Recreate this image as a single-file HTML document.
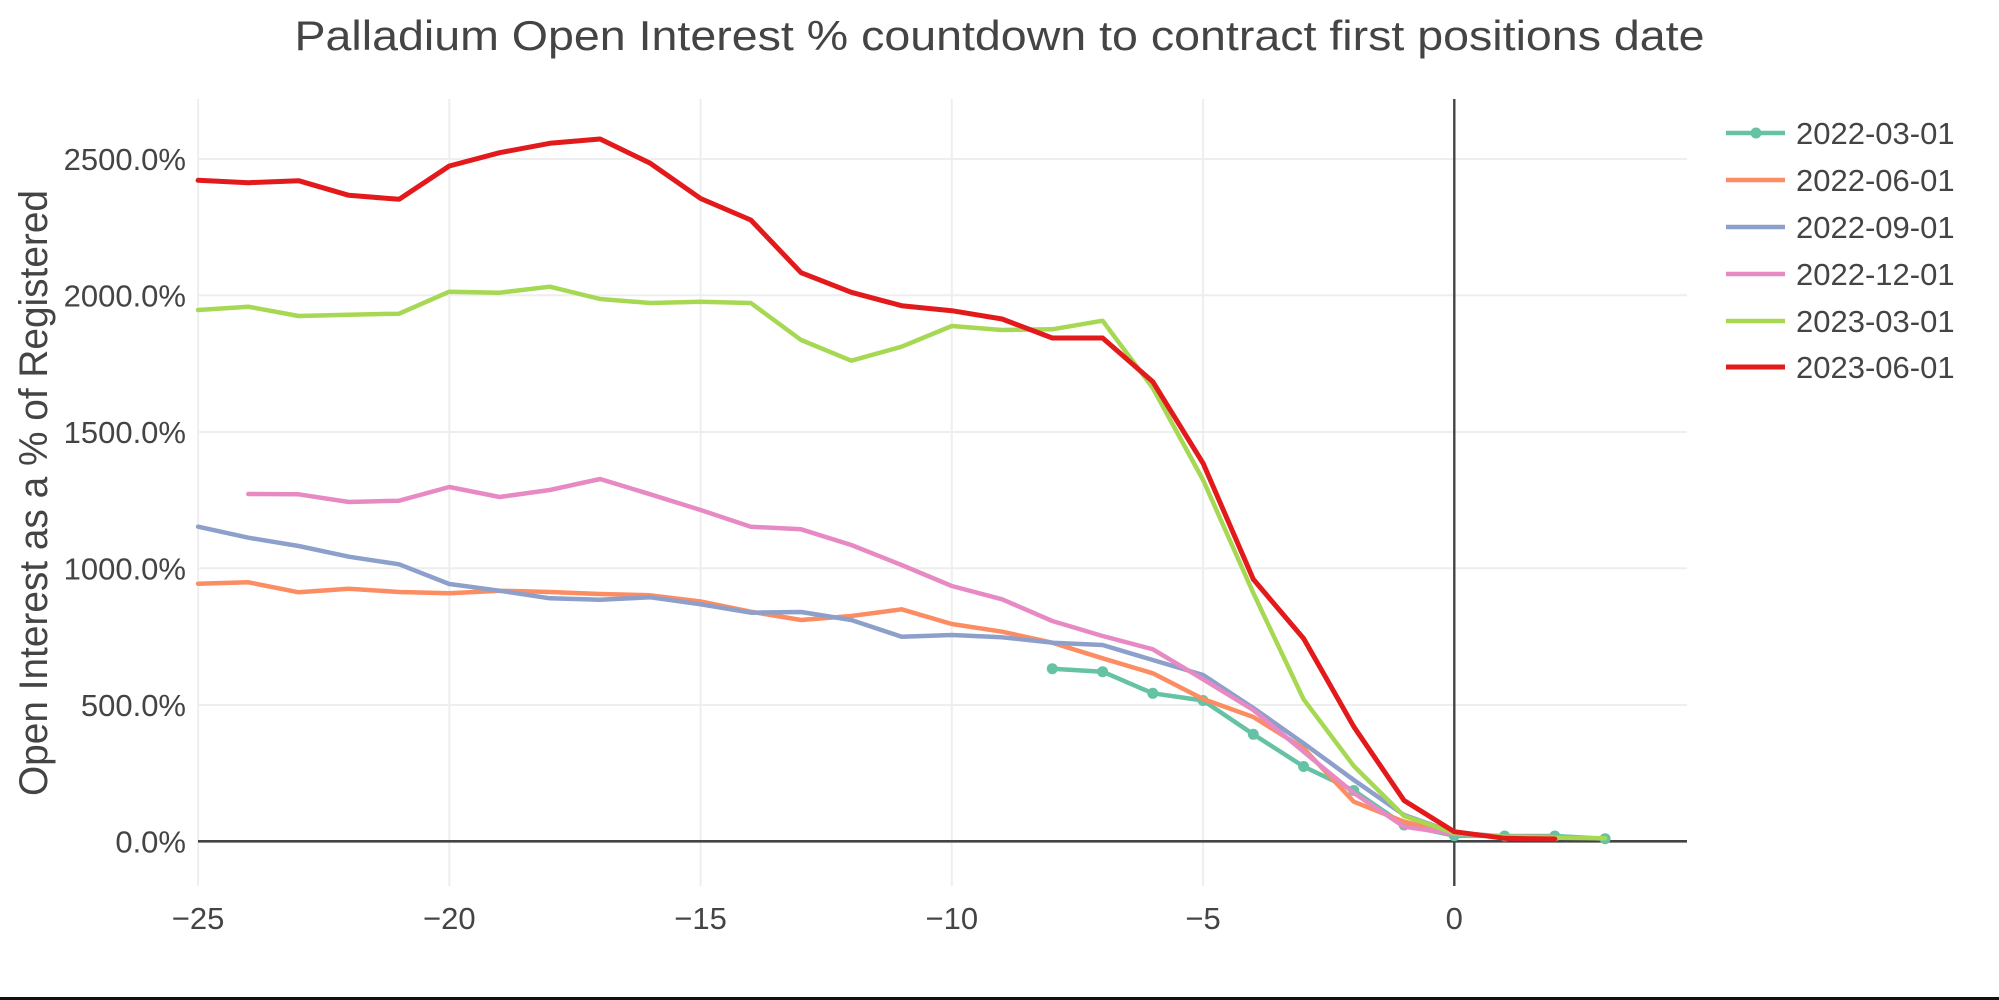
<!DOCTYPE html>
<html>
<head>
<meta charset="utf-8">
<style>
html,body{margin:0;padding:0;background:#fff;}
svg{display:block;}
text{font-family:"Liberation Sans",Arial,sans-serif;fill:#444;}
</style>
</head>
<body>
<svg width="1999" height="1000" viewBox="0 0 1999 1000" xmlns="http://www.w3.org/2000/svg">
<rect x="0" y="0" width="1999" height="1000" fill="#fff"/>

<!-- title -->
<text x="999.5" y="50" font-size="42" text-anchor="middle" textLength="1410" lengthAdjust="spacingAndGlyphs">Palladium Open Interest % countdown to contract first positions date</text>

<!-- grid -->
<g stroke="#eeeeee" stroke-width="2">
  <line x1="198" y1="705" x2="1687" y2="705"/>
  <line x1="198" y1="568.3" x2="1687" y2="568.3"/>
  <line x1="198" y1="432" x2="1687" y2="432"/>
  <line x1="198" y1="295.3" x2="1687" y2="295.3"/>
  <line x1="198" y1="159" x2="1687" y2="159"/>
  <line x1="198.1" y1="99" x2="198.1" y2="886"/>
  <line x1="449.3" y1="99" x2="449.3" y2="886"/>
  <line x1="700.6" y1="99" x2="700.6" y2="886"/>
  <line x1="951.8" y1="99" x2="951.8" y2="886"/>
  <line x1="1203.1" y1="99" x2="1203.1" y2="886"/>
</g>
<!-- zero lines -->
<line x1="198" y1="841.3" x2="1687" y2="841.3" stroke="#444" stroke-width="2.6"/>
<line x1="1454.3" y1="99" x2="1454.3" y2="886" stroke="#444" stroke-width="2.4"/>

<!-- y tick labels -->
<g font-size="31" text-anchor="end">
  <text x="186" y="852.5">0.0%</text>
  <text x="186" y="716.2">500.0%</text>
  <text x="186" y="579.5">1000.0%</text>
  <text x="186" y="443.2">1500.0%</text>
  <text x="186" y="306.5">2000.0%</text>
  <text x="186" y="170.2">2500.0%</text>
</g>
<!-- x tick labels -->
<g font-size="31" text-anchor="middle">
  <text x="198.1" y="929">−25</text>
  <text x="449.3" y="929">−20</text>
  <text x="700.6" y="929">−15</text>
  <text x="951.8" y="929">−10</text>
  <text x="1203.1" y="929">−5</text>
  <text x="1454.3" y="929">0</text>
</g>
<!-- y axis title -->
<text transform="translate(47,493) rotate(-90)" x="0" y="0" font-size="40" text-anchor="middle" textLength="606" lengthAdjust="spacingAndGlyphs">Open Interest as a % of Registered</text>

<!-- series -->
<g fill="none" stroke-linejoin="round" stroke-linecap="round">
  <polyline stroke="#66c2a5" stroke-width="4.5" points="1052.3,668.7 1102.6,671.7 1152.8,693.3 1203.1,700.5 1253.3,734.3 1303.6,766.5 1353.8,790.5 1404.1,825 1454.3,835.7 1504.6,836 1554.8,836 1605.1,838.7"/>
  <g fill="#66c2a5">
    <circle cx="1052.3" cy="668.7" r="5.5"/><circle cx="1102.6" cy="671.7" r="5.5"/><circle cx="1152.8" cy="693.3" r="5.5"/><circle cx="1203.1" cy="700.5" r="5.5"/><circle cx="1253.3" cy="734.3" r="5.5"/><circle cx="1303.6" cy="766.5" r="5.5"/><circle cx="1353.8" cy="790.5" r="5.5"/><circle cx="1404.1" cy="825" r="5.5"/><circle cx="1454.3" cy="835.7" r="5.5"/><circle cx="1504.6" cy="836" r="5.5"/><circle cx="1554.8" cy="836" r="5.5"/><circle cx="1605.1" cy="838.7" r="5.5"/>
  </g>
  <polyline stroke="#fc8d62" stroke-width="4.5" points="198.1,583.7 248.3,582.3 298.6,592.3 348.8,588.7 399.1,592 449.3,593.3 499.6,590.7 549.8,592 600.1,594 650.3,595.3 700.6,601.5 750.8,611.7 801.1,620 851.3,616 901.6,609.3 951.8,624 1002.1,631.7 1052.3,642.7 1102.6,658.3 1152.8,673.3 1203.1,699 1253.3,717 1303.6,748.3 1353.8,801.7 1404.1,821.7 1454.3,833.3 1504.6,836.7 1554.8,837"/>
  <polyline stroke="#8da0cb" stroke-width="4.5" points="198.1,526.7 248.3,537.7 298.6,546 348.8,556.7 399.1,564.3 449.3,584 499.6,590.7 549.8,598.3 600.1,599.7 650.3,597.3 700.6,604.3 750.8,612.7 801.1,612 851.3,620 901.6,636.7 951.8,635 1002.1,637.3 1052.3,642.7 1102.6,645 1152.8,660 1203.1,675 1253.3,708 1303.6,743.3 1353.8,780 1404.1,815 1454.3,832.7 1504.6,836.5"/>
  <polyline stroke="#e78ac3" stroke-width="4.5" points="248.3,494 298.6,494.3 348.8,502 399.1,500.7 449.3,487 499.6,497 549.8,490 600.1,479 650.3,494.3 700.6,510 750.8,526.7 801.1,529.3 851.3,545 901.6,565 951.8,586 1002.1,599.3 1052.3,621 1102.6,636 1152.8,649.3 1203.1,679.3 1253.3,710 1303.6,751.7 1353.8,793 1404.1,826.7 1454.3,834"/>
  <polyline stroke="#a6d854" stroke-width="4.5" points="198.1,310 248.3,306.7 298.6,316 348.8,314.7 399.1,313.7 449.3,291.7 499.6,292.7 549.8,286.7 600.1,299 650.3,303 700.6,301.7 750.8,303 801.1,340 851.3,360.7 901.6,346.7 951.8,326 1002.1,330 1052.3,329.3 1102.6,320.7 1152.8,388 1203.1,480 1253.3,593 1303.6,699.3 1353.8,766 1404.1,816 1454.3,833 1504.6,836.7 1554.8,837.7 1605.1,838.3"/>
  <polyline stroke="#e31a1c" stroke-width="5" points="198.1,180.3 248.3,182.7 298.6,180.7 348.8,195.3 399.1,199.3 449.3,166 499.6,152.7 549.8,143.3 600.1,139 650.3,163.3 700.6,198.5 750.8,220 801.1,272.7 851.3,292.3 901.6,305.7 951.8,310.7 1002.1,319 1052.3,338 1102.6,338 1152.8,381.7 1203.1,463.3 1253.3,579.3 1303.6,638.5 1353.8,726.7 1404.1,800.5 1454.3,831.7 1504.6,838.3 1554.8,839"/>
</g>

<!-- legend -->
<g stroke-width="4.5">
  <line x1="1726" y1="133" x2="1785" y2="133" stroke="#66c2a5"/>
  <circle cx="1756" cy="133" r="5.5" fill="#66c2a5"/>
  <line x1="1726" y1="180" x2="1785" y2="180" stroke="#fc8d62"/>
  <line x1="1726" y1="227" x2="1785" y2="227" stroke="#8da0cb"/>
  <line x1="1726" y1="274" x2="1785" y2="274" stroke="#e78ac3"/>
  <line x1="1726" y1="321" x2="1785" y2="321" stroke="#a6d854"/>
  <line x1="1726" y1="367" x2="1785" y2="367" stroke="#e31a1c" stroke-width="5"/>
</g>
<g font-size="31">
  <text x="1796" y="144">2022-03-01</text>
  <text x="1796" y="191">2022-06-01</text>
  <text x="1796" y="238">2022-09-01</text>
  <text x="1796" y="285">2022-12-01</text>
  <text x="1796" y="332">2023-03-01</text>
  <text x="1796" y="378">2023-06-01</text>
</g>

<!-- bottom border -->
<rect x="0" y="997" width="1999" height="3" fill="#111"/>
</svg>
</body>
</html>
